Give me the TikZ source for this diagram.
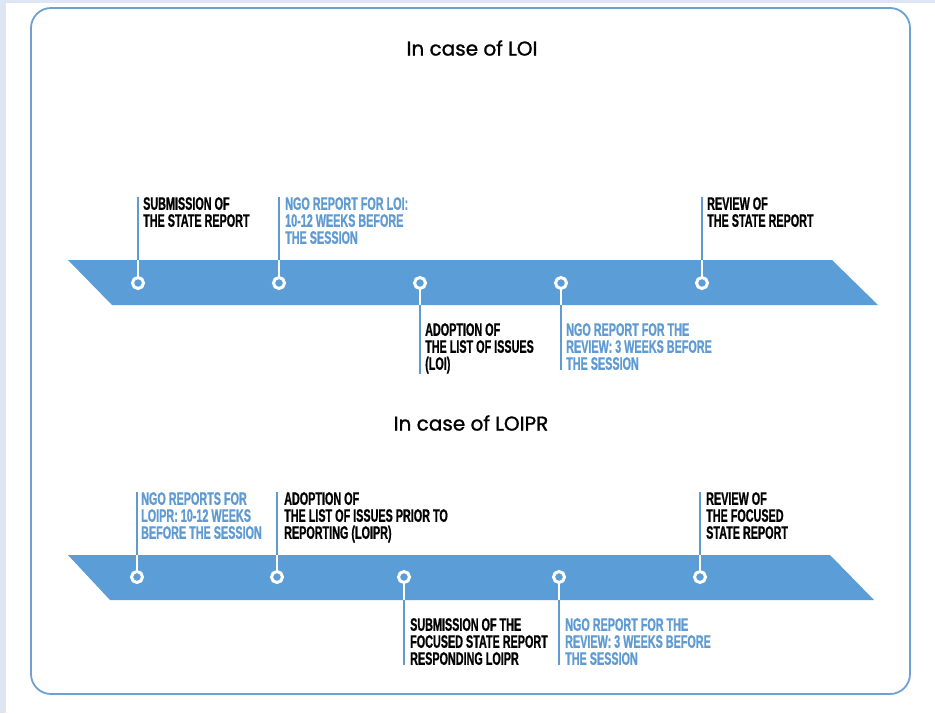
\documentclass[tikz,border=0pt]{standalone}
\usepackage{fontspec}
\newfontfamily\condfont[FakeStretch=0.6, FakeBold=0.8]{Liberation Sans}
\newfontfamily\titlefont[FakeBold=1.2]{Poppins}
\definecolor{bandblue}{RGB}{91,157,214}
\definecolor{textblue}{RGB}{95,155,210}
\definecolor{framecol}{RGB}{110,160,210}
\definecolor{bgcol}{RGB}{221,230,242}

\begin{document}
\begin{tikzpicture}[x=1pt, y=-1pt,
  band/.style = {fill=bandblue},
  marker/.style = {circle, draw=white, line width=3pt, fill=bandblue, minimum size=11pt, inner sep=0pt},
  stemin/.style = {white, line width=2.5pt},
  stemout/.style = {textblue, line width=2.5pt},
  lbl/.style = {anchor=north west, font=\condfont\bfseries\fontsize{18}{17}\selectfont, align=left, inner sep=0pt},
  blbl/.style = {lbl, text=textblue},
  title/.style = {font=\titlefont\fontsize{20}{24}\selectfont}]

    % page and frame
    \useasboundingbox (0,0) rectangle (935,713);
    \fill[white] (0,0) rectangle (935,713);
    \fill[bgcol] (0,0) rectangle (935,3);
    \fill[bgcol] (0,0) rectangle (6,713);
    \draw[framecol, line width=1.8pt, rounded corners=20pt] (31,8) rectangle (910,694);

    % titles
    \node[title] (loi) at (472,48) {In case of LOI};
    \node[title] (loipr) at (471,423) {In case of LOIPR};

    % band of LOI
    \fill[band] (68,260) -- (832,260) -- (878,305) -- (112,305) -- cycle;
    \coordinate (top1) at (0,260);
    \coordinate (bot1) at (0,305);

    \node[marker] (m1) at (138,283) {};
    \node[marker] (m2) at (279,283) {};
    \node[marker] (m3) at (420,283) {};
    \node[marker] (m4) at (561,283) {};
    \node[marker] (m5) at (702,283) {};

    \node[lbl] (t1) at (143,197) {SUBMISSION OF\\THE STATE REPORT};
    \node[blbl] (t2) at (285,197) {NGO REPORT FOR LOI:\\10-12 WEEKS BEFORE\\THE SESSION};
    \node[lbl] (t3) at (425,323) {ADOPTION OF\\THE LIST OF ISSUES\\(LOI)};
    \node[blbl] (t4) at (566,323) {NGO REPORT FOR THE\\REVIEW: 3 WEEKS BEFORE\\THE SESSION};
    \node[lbl] (t5) at (707,197) {REVIEW OF\\THE STATE REPORT};

    \draw[stemin] (m1.north) -- (m1 |- top1);
    \draw[stemout] (m1 |- top1) -- (m1 |- t1.north);
    \draw[stemin] (m2.north) -- (m2 |- top1);
    \draw[stemout] (m2 |- top1) -- (m2 |- t2.north);
    \draw[stemin] (m3.south) -- (m3 |- bot1);
    \draw[stemout] (m3 |- bot1) -- (m3 |- t3.south);
    \draw[stemin] (m4.south) -- (m4 |- bot1);
    \draw[stemout] (m4 |- bot1) -- (m4 |- t4.south);
    \draw[stemin] (m5.north) -- (m5 |- top1);
    \draw[stemout] (m5 |- top1) -- (m5 |- t5.north);

    % band of LOIPR
    \fill[band] (68,555) -- (830,555) -- (874,600) -- (110,600) -- cycle;
    \coordinate (top2) at (0,555);
    \coordinate (bot2) at (0,600);

    \node[marker] (n1) at (137,577) {};
    \node[marker] (n2) at (277,577) {};
    \node[marker] (n3) at (404,577) {};
    \node[marker] (n4) at (559,577) {};
    \node[marker] (n5) at (700,577) {};

    \node[blbl] (u1) at (141,492) {NGO REPORTS FOR\\LOIPR: 10-12 WEEKS\\BEFORE THE SESSION};
    \node[lbl] (u2) at (284,492) {ADOPTION OF\\THE LIST OF ISSUES PRIOR TO\\REPORTING (LOIPR)};
    \node[lbl] (u3) at (410,618) {SUBMISSION OF THE\\FOCUSED STATE REPORT\\RESPONDING LOIPR};
    \node[blbl] (u4) at (565,618) {NGO REPORT FOR THE\\REVIEW: 3 WEEKS BEFORE\\THE SESSION};
    \node[lbl] (u5) at (706,492) {REVIEW OF\\THE FOCUSED\\STATE REPORT};

    \draw[stemin] (n1.north) -- (n1 |- top2);
    \draw[stemout] (n1 |- top2) -- (n1 |- u1.north);
    \draw[stemin] (n2.north) -- (n2 |- top2);
    \draw[stemout] (n2 |- top2) -- (n2 |- u2.north);
    \draw[stemin] (n3.south) -- (n3 |- bot2);
    \draw[stemout] (n3 |- bot2) -- (n3 |- u3.south);
    \draw[stemin] (n4.south) -- (n4 |- bot2);
    \draw[stemout] (n4 |- bot2) -- (n4 |- u4.south);
    \draw[stemin] (n5.north) -- (n5 |- top2);
    \draw[stemout] (n5 |- top2) -- (n5 |- u5.north);

\end{tikzpicture}
\end{document}
